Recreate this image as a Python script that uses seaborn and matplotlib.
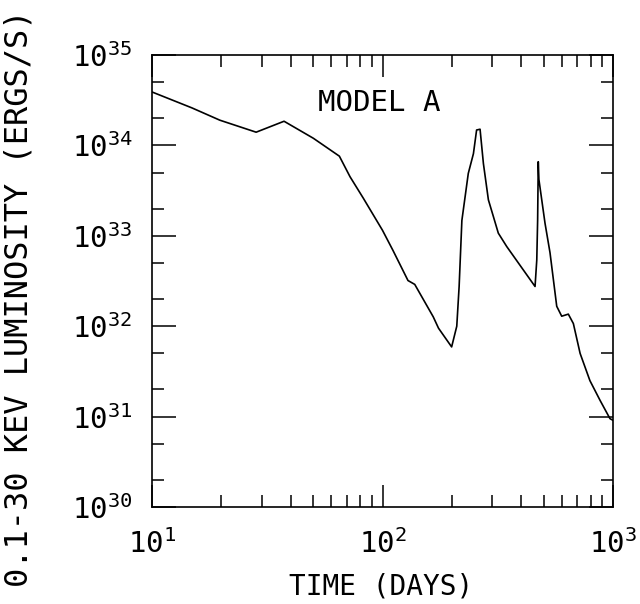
import math
import matplotlib
matplotlib.use("Agg")
import matplotlib.pyplot as plt
import matplotlib.ticker as mticker
import seaborn as sns
import pandas as pd

# ---- data ----
time_days = [10.0, 14.9, 19.7, 28.3, 37.4, 50.1, 65.0, 72.3, 82.6, 100.0,
             111.0, 129.0, 138.0, 166.0, 175.0, 199.5, 210.0, 215.0, 221.0,
             235.6, 248.0, 256.0, 265.0, 274.0, 288.0, 303.0, 318.0, 346.0,
             408.0, 459.0, 467.0, 471.0, 474.0, 477.0, 507.0, 533.0, 570.0,
             599.0, 640.0, 673.0, 720.0, 794.0, 879.0, 970.0, 1000.0]
luminosity = [3.9e34, 2.6e34, 1.9e34, 1.4e34, 1.85e34, 1.2e34, 7.6e33, 4.5e33,
              2.6e33, 1.15e33, 6.9e32, 3.2e32, 2.9e32, 1.27e32, 9.5e31, 5.9e31,
              1.0e32, 2.75e32, 1.48e33, 4.9e33, 8.1e33, 1.48e34, 1.51e34,
              6.3e33, 2.5e33, 1.62e33, 1.07e33, 7.6e32, 4.2e32, 2.75e32,
              5.4e32, 1.48e33, 6.6e33, 4.2e33, 1.38e33, 6.5e32, 1.66e32,
              1.29e32, 1.36e32, 1.07e32, 5.0e31, 2.5e31, 1.51e31, 9.5e30, 9.1e30]
x_label = "TIME (DAYS)"
y_label = "0.1-30 KEV LUMINOSITY (ERGS/S)"
annotation = "MODEL A"
x_limits = (10, 1000)
y_limits = (1e30, 1e35)

sns.set_theme(style="white")
plt.rcParams["font.family"] = ["DejaVu Sans Mono", "DejaVu Sans"]
plt.rcParams["mathtext.fontset"] = "custom"
plt.rcParams["mathtext.rm"] = "DejaVu Sans Mono"
plt.rcParams["mathtext.it"] = "DejaVu Sans Mono"
plt.rcParams["mathtext.bf"] = "DejaVu Sans Mono"
plt.rcParams["text.color"] = "black"
plt.rcParams["xtick.color"] = "black"
plt.rcParams["ytick.color"] = "black"

df = pd.DataFrame({"t": time_days, "L": luminosity})

fig = plt.figure(figsize=(6.4, 6.04), dpi=100)
ax = fig.add_axes([152/640, 1-507/604, 461/640, 452/604])

sns.lineplot(data=df, x="t", y="L", ax=ax, color="black", linewidth=1.2,
             estimator=None, sort=False)
ax.set_xscale("log")
ax.set_yscale("log")
ax.set_xlim(*x_limits)
ax.set_ylim(*y_limits)
ax.set_xlabel("")
ax.set_ylabel("")

for s in ax.spines.values():
    s.set_color("black")
    s.set_linewidth(1.2)

ax.xaxis.set_major_locator(mticker.LogLocator(base=10, numticks=10))
ax.xaxis.set_minor_locator(mticker.LogLocator(base=10, subs=(2, 3, 4, 5, 6, 7, 8, 9), numticks=20))
ax.yaxis.set_major_locator(mticker.LogLocator(base=10, numticks=10))
ax.yaxis.set_minor_locator(mticker.LogLocator(base=10, subs=(2, 5), numticks=20))
ax.xaxis.set_minor_formatter(mticker.NullFormatter())
ax.yaxis.set_minor_formatter(mticker.NullFormatter())

fmt = mticker.FuncFormatter(lambda v, p: r"$10^{%d}$" % round(math.log10(v)))
ax.xaxis.set_major_formatter(fmt)
ax.yaxis.set_major_formatter(fmt)

ax.tick_params(axis="both", which="both", direction="in", top=True, right=True,
               bottom=True, left=True, color="black", labelcolor="black", width=1.1)
ax.tick_params(axis="x", which="major", length=16, pad=16, labelsize=21)
ax.tick_params(axis="y", which="major", length=17, pad=14, labelsize=21)
ax.tick_params(axis="both", which="minor", length=8.5)

ax.text(0.492, 0.894, annotation, transform=ax.transAxes, ha="center",
        va="center", fontsize=21, color="black")
fig.text(381/640, 1-586/604, x_label, ha="center", va="center", fontsize=20,
         color="black")
fig.text(19/640, 1-298/604, y_label, ha="center", va="center", rotation=90,
         fontsize=23, color="black")

fig.savefig("out.png", dpi=100)
